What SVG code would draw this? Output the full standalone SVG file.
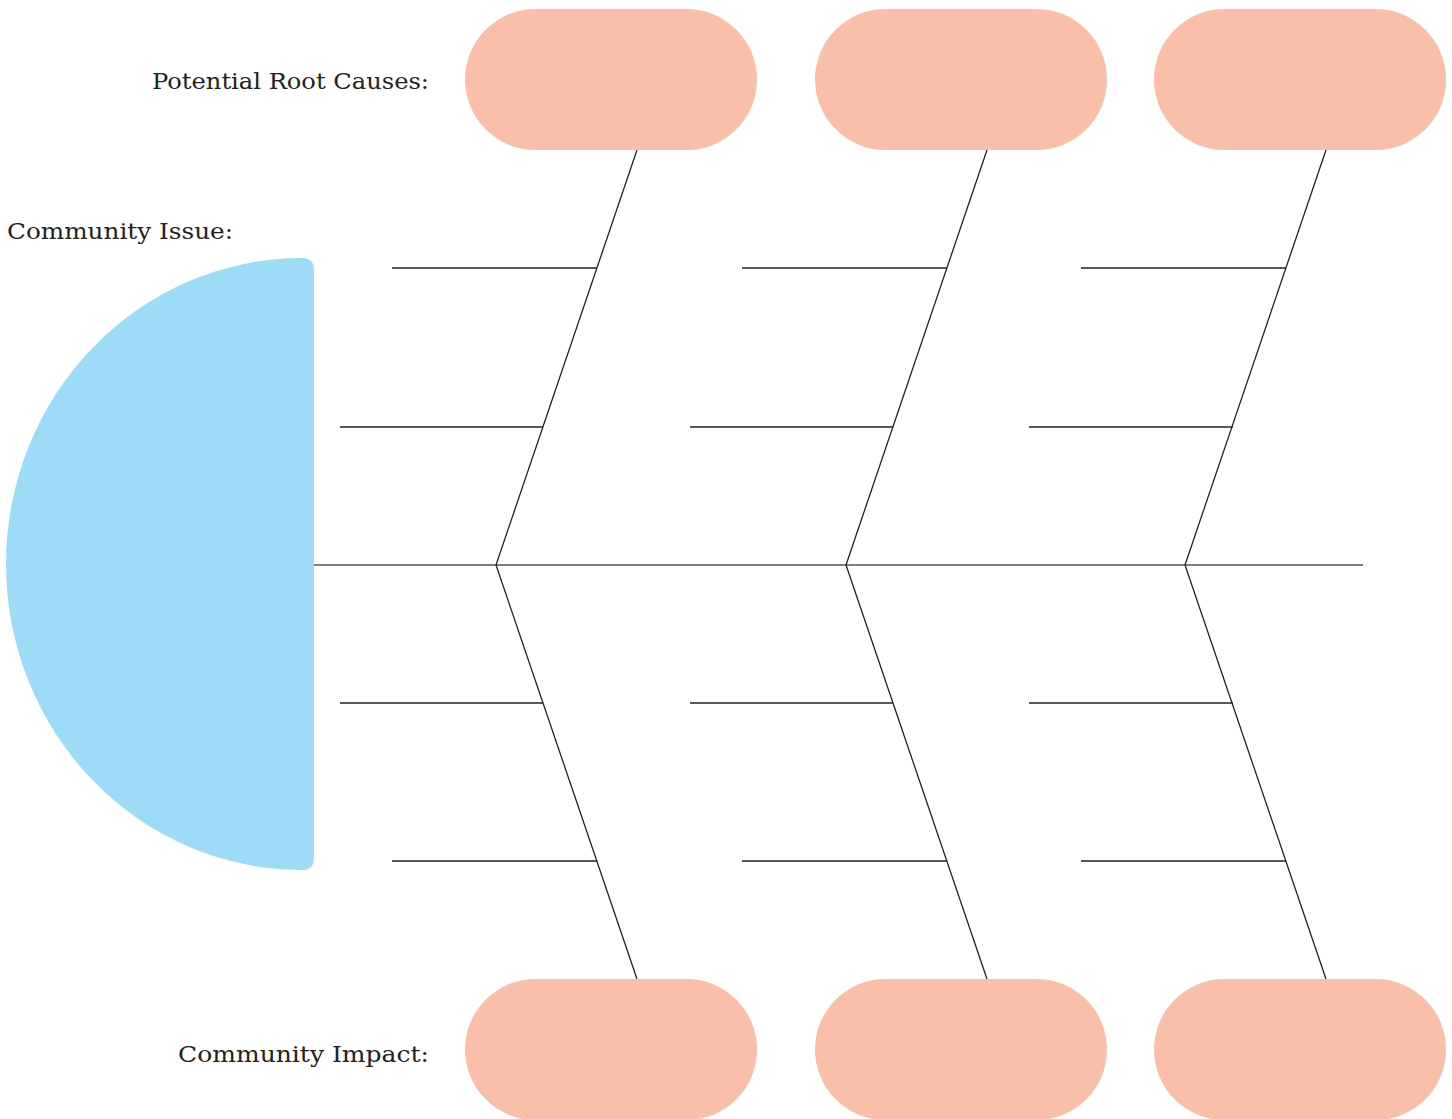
<svg xmlns="http://www.w3.org/2000/svg" width="1452" height="1119" viewBox="0 0 1452 1119">
<style>
.lbl{font-family:"DejaVu Serif","Liberation Serif",serif;font-size:23px;fill:#222}
.pill{fill:#F9BFA8}
.bone{stroke:#222;stroke-width:1.3;fill:none}
.spine{stroke:#555;stroke-width:1.5;fill:none}
</style>
<rect width="1452" height="1119" fill="#fff"/>
<g id="labels">
<text class="lbl" x="429" y="89" text-anchor="end" textLength="277" lengthAdjust="spacingAndGlyphs">Potential Root Causes:</text>
<text class="lbl" x="7" y="239" textLength="226" lengthAdjust="spacingAndGlyphs">Community Issue:</text>
<text class="lbl" x="429" y="1062" text-anchor="end" textLength="251" lengthAdjust="spacingAndGlyphs">Community Impact:</text>
</g>
<g id="head">
<path d="M302 258 Q314 258 314 270 L314 858 Q314 870 302 870 A296 306 0 0 1 302 258 Z" fill="#9DDBF7"/>
</g>
<g id="connectors">
<line class="spine" x1="314" y1="565" x2="1363" y2="565"/>
<polyline class="bone" points="637,150 496,565 637,979"/>
<polyline class="bone" points="987,150 846,565 987,979"/>
<polyline class="bone" points="1326,150 1185,565 1326,979"/>
<line class="bone" x1="392" y1="268" x2="597" y2="268"/>
<line class="bone" x1="340" y1="427" x2="543" y2="427"/>
<line class="bone" x1="340" y1="703" x2="543" y2="703"/>
<line class="bone" x1="392" y1="861" x2="597" y2="861"/>
<line class="bone" x1="742" y1="268" x2="947" y2="268"/>
<line class="bone" x1="690" y1="427" x2="893" y2="427"/>
<line class="bone" x1="690" y1="703" x2="893" y2="703"/>
<line class="bone" x1="742" y1="861" x2="947" y2="861"/>
<line class="bone" x1="1081" y1="268" x2="1286" y2="268"/>
<line class="bone" x1="1029" y1="427" x2="1233" y2="427"/>
<line class="bone" x1="1029" y1="703" x2="1233" y2="703"/>
<line class="bone" x1="1081" y1="861" x2="1286" y2="861"/>
</g>
<g id="cause1"><rect class="pill" x="465" y="9" width="292" height="141" rx="70.5"/></g>
<g id="cause2"><rect class="pill" x="815" y="9" width="292" height="141" rx="70.5"/></g>
<g id="cause3"><rect class="pill" x="1154" y="9" width="292" height="141" rx="70.5"/></g>
<g id="impact1"><rect class="pill" x="465" y="979" width="292" height="141" rx="70.5"/></g>
<g id="impact2"><rect class="pill" x="815" y="979" width="292" height="141" rx="70.5"/></g>
<g id="impact3"><rect class="pill" x="1154" y="979" width="292" height="141" rx="70.5"/></g>
</svg>
